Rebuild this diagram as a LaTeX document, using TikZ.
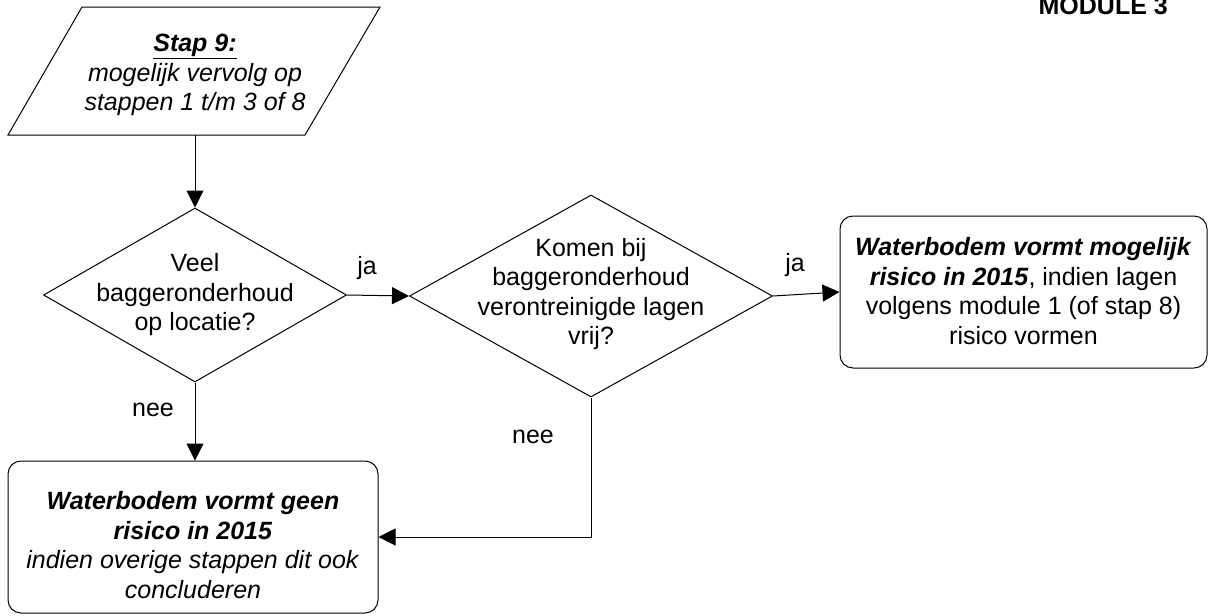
\documentclass[tikz,border=0pt]{standalone}
\usepackage{fontspec}
\setmainfont{Liberation Sans}
\usetikzlibrary{arrows.meta,shapes.geometric}
\begin{document}
\begin{tikzpicture}[x=1pt,y=-1pt,
  every node/.style={font=\fontsize{25}{29.5}\selectfont},
  line/.style={draw=black,line width=1pt},
  flow/.style={line,-{Triangle[length=17pt,width=17pt]}},
  decision/.style={line,shape=diamond,inner sep=0pt,minimum width=#1},
  endbox/.style={line,rectangle,rounded corners=13pt,inner sep=0pt},
  txt/.style={align=center,inner sep=0pt},
  lbl/.style={inner sep=0pt}]
\useasboundingbox (0,0) rectangle (1208,616);

% module heading
\node[anchor=base east,inner sep=0pt] (module) at (1168,14) {\textbf{MODULE 3}};

% input / output parallelogram
\draw[line] (82,7) -- (380,7) -- (305,135) -- (8,135) -- cycle;
\node[txt] (stap) at (195,75) {\textbf{\textit{\underline{Stap 9:}}}\\ \textit{mogelijk vervolg op}\\ \textit{stappen 1 t/m 3 of 8}};
\coordinate (stapout) at (195,135);

% decisions
\node[decision=303pt,minimum height=174pt] (d1) at (195,295) {};
\node[txt] (d1t) at (195,295) {Veel\\ baggeronderhoud\\ op locatie?};

\node[decision=363pt,minimum height=202pt] (d2) at (591,296) {};
\node[txt] (d2t) at (591,294) {Komen bij\\ baggeronderhoud\\ verontreinigde lagen\\ vrij?};

% outcomes
\node[endbox,minimum width=367pt,minimum height=152pt] (rbox) at (1023.5,292) {};
\node[txt] (rboxt) at (1023.5,291) {\textbf{\textit{Waterbodem vormt mogelijk}}\\ \textbf{\textit{risico in 2015}}, indien lagen\\ volgens module 1 (of stap 8)\\ risico vormen};

\node[endbox,minimum width=370pt,minimum height=152pt] (lbox) at (193,537) {};
\node[txt] (lboxt) at (193,545) {\textbf{\textit{Waterbodem vormt geen}}\\ \textbf{\textit{risico in 2015}}\\ \textit{indien overige stappen dit ook}\\ \textit{concluderen}};

% connectors
\draw[flow] (stapout) -- (d1.north);
\draw[flow] (d1.east) -- (d2.west);
\draw[flow] (d2.east) -- (rbox.west);
\draw[flow] (d1.south) -- (d1.south |- lbox.north);
\draw[flow] (d2.south) |- (lbox.east);

% connector labels
\node[lbl] (ja1) at (367,268) {ja};
\node[lbl] (ja2) at (795,265) {ja};
\node[lbl] (nee1) at (153,410) {nee};
\node[lbl] (nee2) at (533,437) {nee};
\end{tikzpicture}
\end{document}
